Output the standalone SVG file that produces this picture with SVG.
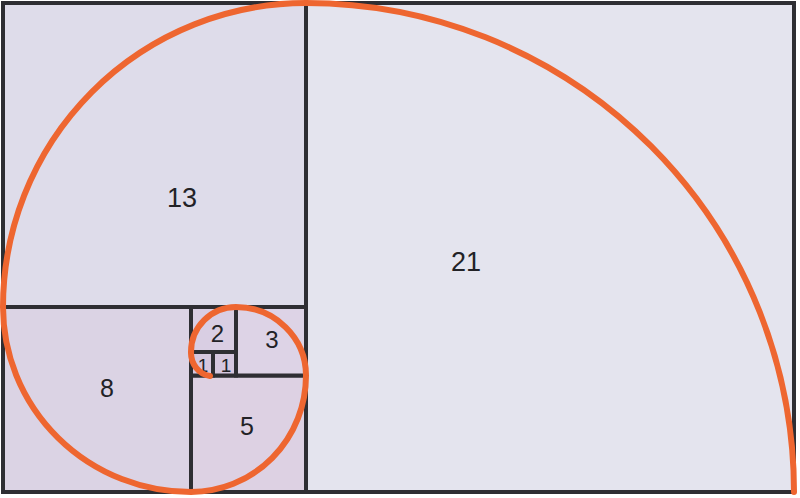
<svg xmlns="http://www.w3.org/2000/svg" width="800" height="498" viewBox="0 0 800 498">
  <style>
    .sq { stroke: #2e2e33; stroke-width: 4; }
    .lbl { font-family: "Liberation Sans", Arial, sans-serif; fill: #222226; text-anchor: middle; }
    .big { font-size: 27px; }
    .mid { font-size: 25px; }
    .sm { font-size: 24px; }
    .xs { font-size: 19px; }
    .spiral { fill: none; stroke: #ee6630; stroke-width: 6; stroke-linecap: round; }
  </style>
  <rect x="0" y="0" width="800" height="498" fill="#ffffff"/>
  <g id="sq21">
    <rect class="sq" x="306" y="3" width="488" height="489" fill="#e4e4ee"/>
    <text class="lbl big" x="466" y="271">21</text>
  </g>
  <g id="sq13">
    <rect class="sq" x="3" y="3" width="303" height="304" fill="#dedcea"/>
    <text class="lbl big" x="182" y="207">13</text>
  </g>
  <g id="sq8">
    <rect class="sq" x="3" y="307" width="188" height="185" fill="#dbd3e4"/>
    <text class="lbl mid" x="107" y="397">8</text>
  </g>
  <g id="sq5">
    <rect class="sq" x="191" y="375.5" width="115" height="116.5" fill="#ddd1e3"/>
    <text class="lbl mid" x="247" y="435">5</text>
  </g>
  <g id="sq3">
    <rect class="sq" x="236" y="307" width="70" height="68.5" fill="#ddd3e6"/>
    <text class="lbl sm" x="272" y="348">3</text>
  </g>
  <g id="sq2">
    <rect class="sq" x="191" y="307" width="45" height="45" fill="#d9cee3"/>
    <text class="lbl sm" x="217.5" y="342">2</text>
  </g>
  <g id="sq1a">
    <rect class="sq" x="191" y="352" width="22" height="23.5" fill="#d5c7df"/>
    <text class="lbl xs" x="203" y="372">1</text>
  </g>
  <g id="sq1b">
    <rect class="sq" x="213" y="352" width="23" height="23.5" fill="#d5c7df"/>
    <text class="lbl xs" x="226" y="372">1</text>
  </g>
  <g id="connectors">
    <path class="spiral" d="M794,492 A488,489 0 0 0 306,3 A303,304 0 0 0 3,307 A188,185 0 0 0 191,492 A115,116.5 0 0 0 306,375.5 A70,68.5 0 0 0 236,307 A45,45 0 0 0 191,352 A22,23.5 0 0 0 210,376"/>
  </g>
</svg>
